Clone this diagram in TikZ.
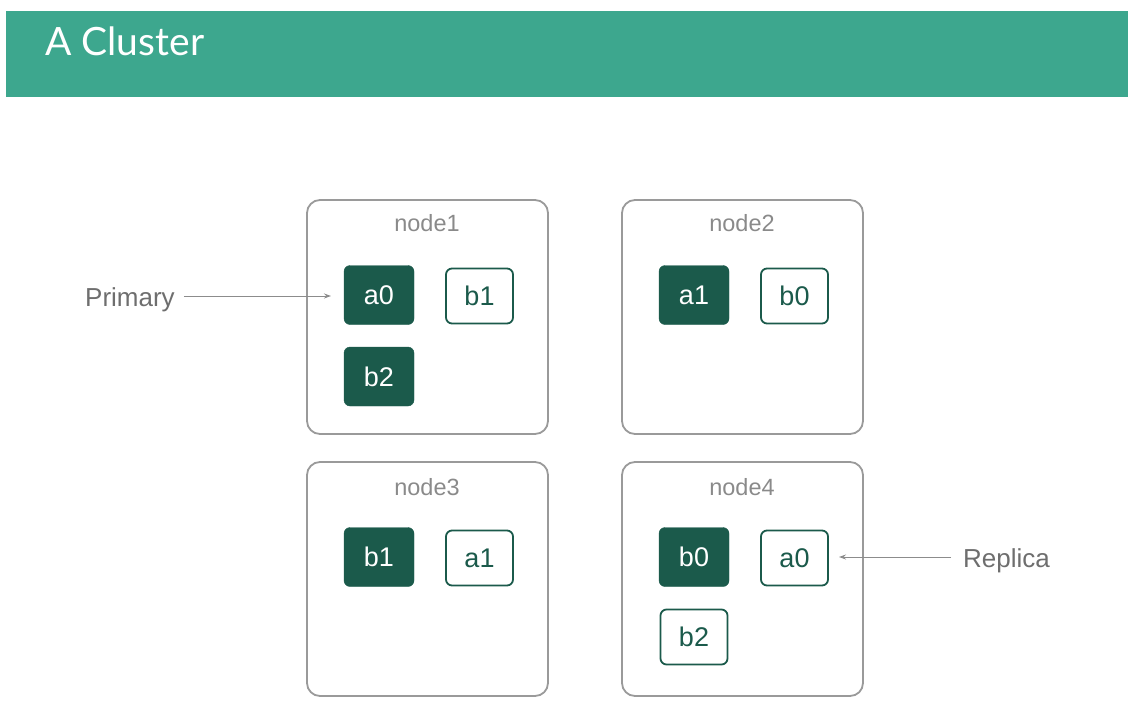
\documentclass[tikz,border=0pt]{standalone}
\usepackage{fontspec}
\usetikzlibrary{arrows.meta}
\setmainfont{Liberation Sans}
\newfontfamily\titlefont{Lato}
\definecolor{teal}{HTML}{3DA78E}
\definecolor{shard}{HTML}{1B5A4B}
\definecolor{boxgray}{HTML}{9A9A9A}
\definecolor{labelgray}{HTML}{8A8A8A}
\definecolor{textgray}{HTML}{6E6E6E}
\definecolor{arrowgray}{HTML}{8C8C8C}
\begin{document}
\begin{tikzpicture}[x=1pt,y=-1pt,
  machine/.style={draw=boxgray, line width=1.8pt, rounded corners=13pt, minimum width=241pt, minimum height=234pt, inner sep=0pt},
  machinelabel/.style={text=labelgray, font=\fontsize{23.5}{28}\selectfont},
  shardtext/.style={text depth=0pt, text height=19pt},
  primaryshard/.style={fill=shard, draw=shard, rounded corners=6pt, minimum width=70pt, minimum height=59pt, inner sep=0pt, text=white, font=\fontsize{27}{32}\selectfont},
  replicashard/.style={fill=white, draw=shard, line width=1.8pt, rounded corners=6pt, minimum width=67pt, minimum height=55pt, inner sep=0pt, text=shard, font=\fontsize{27}{32}\selectfont},
  callout/.style={text=textgray, font=\fontsize{26}{31}\selectfont},
  pointer/.style={draw=arrowgray, line width=1pt, -{Stealth[length=7pt,width=5pt]}}
]
\useasboundingbox (0,0) rectangle (1128,704);
% header bar
\fill[teal] (6,11) rectangle (1128,97);
\node[anchor=base west, text=white, font=\titlefont\fontsize{39}{46}\selectfont, inner sep=0pt] (title) at (45,55) {A Cluster};

% machines
\node[machine] (n1) at (427.5,317) {};
\node[machine] (n2) at (742.5,317) {};
\node[machine] (n3) at (427.5,579) {};
\node[machine] (n4) at (742.5,579) {};
\node[machinelabel] (l1) at (427,223) {node1};
\node[machinelabel] (l2) at (742,223) {node2};
\node[machinelabel] (l3) at (427,487) {node3};
\node[machinelabel] (l4) at (742,487) {node4};

% shards in node1
\node[primaryshard] (n1a0) at (379,295) {a0};
\node[replicashard] (n1b1) at (479.5,296) {b1};
\node[primaryshard] (n1b2) at (379,376.5) {b2};
% shards in node2
\node[primaryshard] (n2a1) at (694,295) {a1};
\node[replicashard] (n2b0) at (794.5,296) {b0};
% shards in node3
\node[primaryshard] (n3b1) at (379,557) {b1};
\node[replicashard] (n3a1) at (479.5,558) {a1};
% shards in node4
\node[primaryshard] (n4b0) at (694,557) {b0};
\node[replicashard] (n4a0) at (794.5,558) {a0};
\node[replicashard] (n4b2) at (694,637) {b2};

% callouts
\node[callout, anchor=west, inner sep=0pt] (prim) at (85,299.5) {Primary};
\node[callout, anchor=west, inner sep=0pt] (repl) at (963,560.5) {Replica};
\coordinate (primend) at (331,296);
\coordinate (replend) at (839,557);
\draw[pointer] ([xshift=9pt]prim.east |- primend) -- (primend);
\draw[pointer] ([xshift=-12pt]repl.west |- replend) -- (replend);
\end{tikzpicture}
\end{document}
